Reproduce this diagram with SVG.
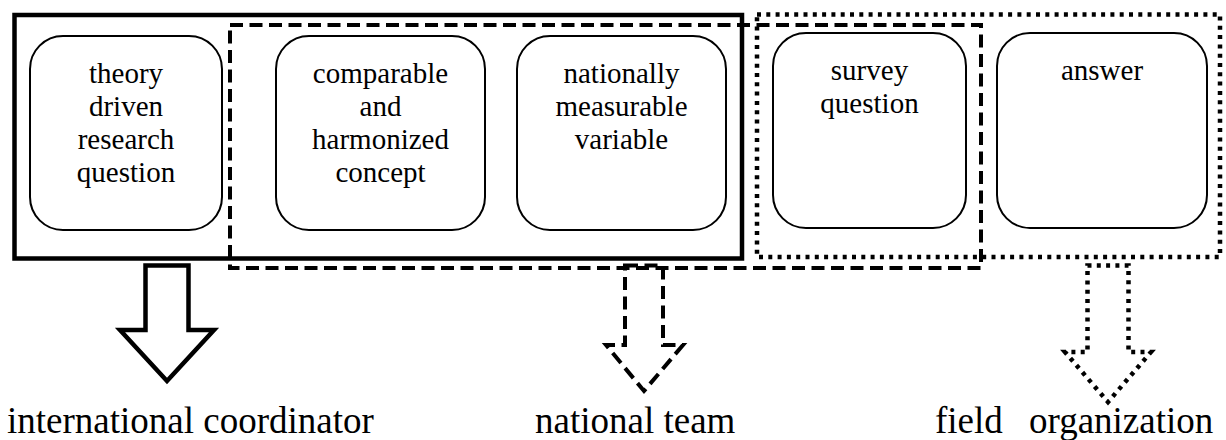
<svg xmlns="http://www.w3.org/2000/svg" width="1226" height="440" viewBox="0 0 1226 440">
<rect width="1226" height="440" fill="#fff"/>
<g fill="#fff" stroke="#000" stroke-width="2">
<g id="n1"><rect x="30" y="36" width="192" height="194" rx="33"/></g>
<g id="n2"><rect x="276" y="36" width="209" height="194" rx="33"/></g>
<g id="n3"><rect x="517" y="36" width="209" height="194" rx="33"/></g>
<g id="n4"><rect x="773" y="33" width="193" height="195" rx="33"/></g>
<g id="n5"><rect x="997" y="33" width="210" height="195" rx="33"/></g>
</g>
<g id="node-text" font-family="Tinos, 'Liberation Serif', 'Times New Roman', serif" font-size="29" text-anchor="middle" fill="#000">
<text x="126" y="83">theory</text>
<text x="126" y="116">driven</text>
<text x="126" y="149">research</text>
<text x="126" y="182">question</text>
<text x="380.5" y="83">comparable</text>
<text x="380.5" y="116">and</text>
<text x="380.5" y="149">harmonized</text>
<text x="380.5" y="182">concept</text>
<text x="621.5" y="83">nationally</text>
<text x="621.5" y="116">measurable</text>
<text x="621.5" y="149">variable</text>
<text x="869.5" y="80">survey</text>
<text x="869.5" y="113">question</text>
<text x="1102" y="80">answer</text>
</g>
<g id="groups" fill="none" stroke="#000">
<rect stroke-width="4.5" x="14.5" y="15" width="727.5" height="243.5"/>
<rect stroke-width="4" stroke-dasharray="13 6.5" x="230" y="25" width="751" height="243"/>
<rect stroke-width="4.5" stroke-dasharray="4 5.3" x="757" y="14.5" width="463" height="242.5"/>
</g>
<g id="connectors" fill="none" stroke="#000">
<polygon stroke-width="4.5" points="145.5,265.5 188.5,265.5 188.5,330 214,330 167,381 120,330 145.5,330"/>
<polygon stroke-width="4" stroke-dasharray="13 6.5" points="625,265.5 663,265.5 663,345 683,345 644,391 606,345 625,345"/>
<polygon stroke-width="4.5" stroke-dasharray="4 5.3" points="1087.5,265.5 1128.5,265.5 1128.5,352 1151,352 1108,402 1065,352 1087.5,352"/>
</g>
<g id="labels" font-family="Tinos, 'Liberation Serif', 'Times New Roman', serif" font-size="37" fill="#000">
<text x="7" y="433">international coordinator</text>
<text x="535" y="433">national team</text>
<text x="935" y="433">field</text>
<text x="1029" y="433">organization</text>
</g>
</svg>
